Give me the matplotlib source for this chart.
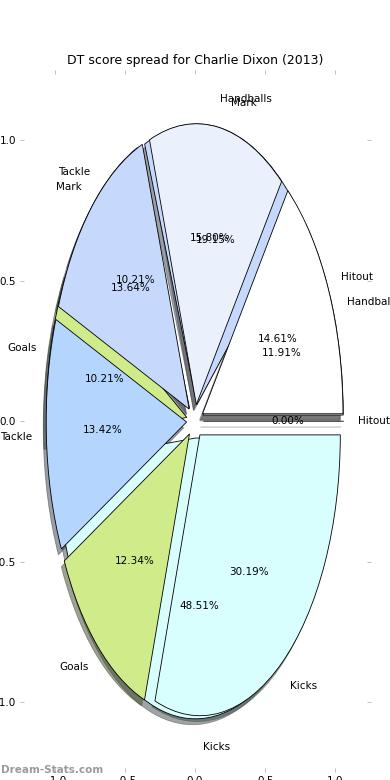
import matplotlib
matplotlib.use("Agg")
import matplotlib.pyplot as plt

# ------------------------------------------------------------
# data
# ------------------------------------------------------------
categories = ['Hitout', 'Handballs', 'Mark', 'Tackle', 'Goals', 'Kicks']
spread_back = [0.00, 11.91, 19.15, 10.21, 10.21, 48.51]     # lower pie
spread_front = [14.61, 15.80, 13.64, 13.42, 12.34, 30.19]   # pie drawn on top
colours = ['#ffffff', '#eaf1fd', '#c6d9fd', '#b4d5fe', '#d0eb8a', '#d9fefe']

# ------------------------------------------------------------
# plot
# ------------------------------------------------------------
fig = plt.figure(figsize=(5.2, 10.4), dpi=75)
ax = fig.add_axes([0.05, 0.01, 0.9, 0.9])

wedge_style = {'edgecolor': 'black', 'linewidth': 0.8}
for values in (spread_back, spread_front):
    ax.pie(values, labels=categories, colors=colours, explode=[0.06] * len(values),
           autopct='%1.2f%%', shadow=True, labeldistance=1.1, pctdistance=0.6,
           wedgeprops=wedge_style, frame=True, textprops={'fontsize': 10})

ax.set_aspect('auto')
ax.set_xlim(-1.25, 1.25)
ax.set_ylim(-1.25, 1.25)
ax.set_xticks([-1.0, -0.5, 0.0, 0.5, 1.0])
ax.set_yticks([-1.0, -0.5, 0.0, 0.5, 1.0])
ax.set_frame_on(False)
ax.tick_params(direction='in', top=True, right=True, length=4, width=0.6,
               color='#999999', labelsize=10)
ax.set_title("DT score spread for Charlie Dixon (2013)", fontsize=12)

fig.text(0.002, 0.013, "Dream-Stats.com", fontsize=10, fontweight='bold',
         color='#9a9a9a', va='center', ha='left')

fig.savefig("out.png", dpi=75)
